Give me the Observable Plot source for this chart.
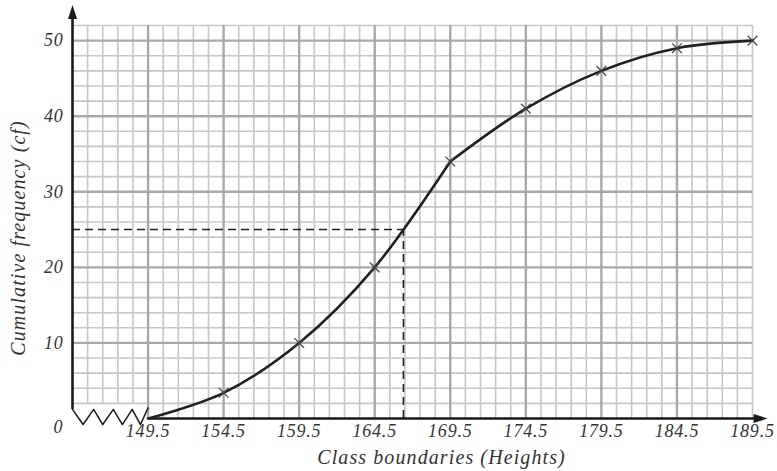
<!DOCTYPE html>
<html>
<head>
<meta charset="utf-8">
<script src="https://cdn.jsdelivr.net/npm/d3@7"></script>
<script src="https://cdn.jsdelivr.net/npm/@observablehq/plot@0.6"></script>
<style>
  html, body { margin: 0; padding: 0; background: #fff; }
</style>
</head>
<body>
<div id="chart"></div>
<script>
// Data
const boundaries = [149.5, 154.5, 159.5, 164.5, 169.5, 174.5, 179.5, 184.5, 189.5];
const cumFreq = [0, 3.4, 10, 20, 34, 41, 46, 49, 50];
const xTickLabels = ["149.5", "154.5", "159.5", "164.5", "169.5", "174.5", "179.5", "184.5", "189.5"];
const yTickValues = [10, 20, 30, 40, 50];
const medianHeight = 166.4;
const halfTotal = 25;
// axis break (zigzag) points, data coordinates
const breakX = [144.5, 145.2, 145.9, 146.5, 147.2, 147.8, 148.45, 149.0, 149.5];
const breakY = [1.2, -0.8, 1.2, -0.8, 1.2, -0.8, 1.2, -0.8, 1.4];

const xMin = 144.5, xMax = 189.5, yMax = 52;
const FONT = "Liberation Serif";

// grid
const vMinor = d3.range(145.5, 189.6, 1).filter(v => Math.abs(((v - 149.5) % 5)) > 1e-6 || v === 189.5);
const vMajor = d3.range(149.5, 189.4, 5);
const hMinor = d3.range(2, 52.1, 2).filter(v => v % 10 !== 0);
const hMajor = d3.range(10, 50.1, 10);

const curveRows = [];
boundaries.forEach((b, i) => {
  if (i <= 4) curveRows.push({x: b, y: cumFreq[i], seg: "a"});
  if (i >= 4) curveRows.push({x: b, y: cumFreq[i], seg: "b"});
});
const markerRows = boundaries.map((b, i) => ({x: b, y: cumFreq[i]})).slice(1);
const zig = breakX.map((x, i) => ({x, y: breakY[i]}));

const arrowHead = {
  draw(ctx) {
    ctx.moveTo(0, 0);
    ctx.lineTo(4.5, 14);
    ctx.lineTo(-4.5, 14);
    ctx.closePath();
  }
};

const txt = {fontStyle: "italic", fill: "#333", fontFamily: FONT};

const chart = Plot.plot({
  width: 777,
  height: 471,
  marginLeft: 72,
  marginRight: 25,
  marginTop: 25,
  marginBottom: 53,
  x: {domain: [xMin, xMax], axis: null},
  y: {domain: [0, yMax], axis: null},
  style: {background: "#fff", fontFamily: FONT},
  marks: [
    // minor grid
    Plot.ruleX(vMinor, {x: d => d, y1: d => d < 149.5 ? 2 : 0, y2: yMax, stroke: "#c6c6c6", strokeWidth: 1.6}),
    Plot.ruleY(hMinor, {y: d => d, x1: xMin, x2: xMax, stroke: "#c6c6c6", strokeWidth: 1.6}),
    // major grid
    Plot.ruleX(vMajor, {x: d => d, y1: 0, y2: yMax, stroke: "#a9a9a9", strokeWidth: 2.4}),
    Plot.ruleY(hMajor, {y: d => d, x1: xMin, x2: xMax, stroke: "#a9a9a9", strokeWidth: 2.4}),
    // dashed median guides
    Plot.ruleY([halfTotal], {x1: xMin, x2: medianHeight, stroke: "#222", strokeWidth: 1.6, strokeDasharray: "8,5"}),
    Plot.ruleX([medianHeight], {y1: 0, y2: halfTotal, stroke: "#222", strokeWidth: 1.6, strokeDasharray: "8,5"}),
    // axes
    Plot.ruleX([xMin], {y1: 1.2, y2: 53.5, stroke: "#1a1a1a", strokeWidth: 2.6}),
    Plot.ruleY([0], {x1: 149.5, x2: 190, stroke: "#1a1a1a", strokeWidth: 2.6}),
    Plot.dot([{x: xMin, y: 54.7}], {x: "x", y: "y", symbol: arrowHead, fill: "#1a1a1a", stroke: null, r: 5}),
    Plot.dot([{x: 190.5, y: 0}], {x: "x", y: "y", symbol: arrowHead, fill: "#1a1a1a", stroke: null, r: 5, rotate: 90}),
    Plot.line(zig, {x: "x", y: "y", stroke: "#1a1a1a", strokeWidth: 1.5}),
    // ogive
    Plot.line(curveRows, {x: "x", y: "y", z: "seg", curve: "catmull-rom", stroke: "#231f20", strokeWidth: 2.6}),
    Plot.dot(markerRows, {x: "x", y: "y", symbol: "times", r: 4.5, stroke: "#444", strokeWidth: 1.2}),
    // tick labels
    Plot.text(boundaries, {x: d => d, y: 0, dy: 13, text: (d, i) => xTickLabels[i], fontSize: 18, lineAnchor: "middle", className: "tick", ...txt}),
    Plot.text(yTickValues, {x: xMin, y: d => d, dx: -9, text: d => String(d), textAnchor: "end", lineAnchor: "middle", fontSize: 18, className: "tick", ...txt}),
    Plot.text(["0"], {x: xMin, y: 0, dx: -14, dy: 9, text: d => d, lineAnchor: "middle", fontSize: 18, className: "tick", ...txt}),
    // axis titles
    Plot.text(["Class boundaries (Heights)"], {frameAnchor: "bottom", textAnchor: "middle", lineAnchor: "middle", dx: 29, dy: 39, text: d => d, fontSize: 20, className: "ttl", ...txt}),
    Plot.text(["Cumulative frequency (cf)"], {frameAnchor: "left", textAnchor: "middle", lineAnchor: "middle", dx: -54, dy: 16, rotate: -90, text: d => d, fontSize: 20, className: "ttl", ...txt})
  ]
});
document.getElementById("chart").appendChild(chart);
// enforce serif italic directly on text nodes
d3.select(chart).selectAll("text")
  .style("font-family", "'Liberation Serif'")
  .style("font-style", "italic");
d3.select(chart).selectAll(".tick text").style("letter-spacing", "0.8px");
d3.select(chart).selectAll(".ttl text").style("letter-spacing", "1.1px");
</script>
</body>
</html>
